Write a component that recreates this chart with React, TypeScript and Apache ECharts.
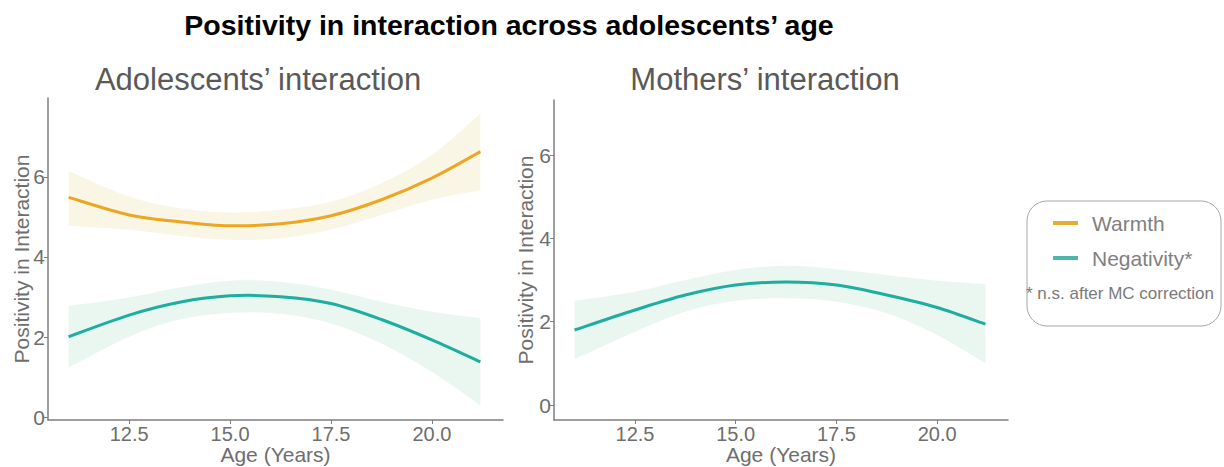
import React, { useEffect, useRef } from "react";
import * as echarts from "echarts";

const ages = [11.0, 12.5, 13.75, 15.0, 16.25, 17.5, 18.75, 20.0, 21.2];

const warmthFit = [5.49, 5.05, 4.88, 4.78, 4.83, 5.03, 5.43, 5.97, 6.63];
const warmthUpper = [6.15, 5.51, 5.22, 5.11, 5.18, 5.38, 5.84, 6.55, 7.58];
const warmthLower = [4.78, 4.68, 4.53, 4.43, 4.47, 4.68, 5.05, 5.43, 5.66];

const negAdolFit = [2.01, 2.55, 2.87, 3.03, 3.01, 2.84, 2.44, 1.93, 1.38];
const negAdolUpper = [2.78, 2.99, 3.24, 3.41, 3.38, 3.18, 2.88, 2.63, 2.47];
const negAdolLower = [1.24, 2.01, 2.44, 2.61, 2.58, 2.34, 1.84, 1.13, 0.3];

const negMomFit = [1.8, 2.28, 2.64, 2.88, 2.95, 2.88, 2.64, 2.34, 1.94];
const negMomUpper = [2.5, 2.72, 3.0, 3.24, 3.34, 3.26, 3.12, 2.98, 2.9];
const negMomLower = [1.1, 1.76, 2.24, 2.5, 2.56, 2.48, 2.2, 1.68, 1.0];

const xTicks = [12.5, 15.0, 17.5, 20.0];
const yTicks = [0, 2, 4, 6];

const chartTitle = "Positivity in interaction across adolescents’ age";
const panelTitles = ["Adolescents’ interaction", "Mothers’ interaction"];
const legendItems = ["Warmth", "Negativity*"];
const legendNote = "* n.s. after MC correction";

const FONT = "'Liberation Sans', Arial, sans-serif";
const WARM = "#EDA621";
const WARM_BAND = "#FAF6E5";
const TEAL = "#1DAE9F";
const TEAL_BAND = "#EAF6F0";
const AXIS = "#7f7f7f";
const LABEL = "#6e6e6e";

// Catmull-Rom spline through pixel points, as cubic Bezier segments
function splineSegs(p: number[][]): string {
  let d = "";
  for (let i = 0; i < p.length - 1; i++) {
    const p0 = p[i - 1] || p[i];
    const p1 = p[i];
    const p2 = p[i + 1];
    const p3 = p[i + 2] || p[i + 1];
    const c1x = p1[0] + (p2[0] - p0[0]) / 6;
    const c1y = p1[1] + (p2[1] - p0[1]) / 6;
    const c2x = p2[0] - (p3[0] - p1[0]) / 6;
    const c2y = p2[1] - (p3[1] - p1[1]) / 6;
    d += ` C ${c1x.toFixed(2)} ${c1y.toFixed(2)} ${c2x.toFixed(2)} ${c2y.toFixed(2)} ${p2[0].toFixed(2)} ${p2[1].toFixed(2)}`;
  }
  return d;
}

function band(name: string, idx: number, up: number[], lo: number[], color: string) {
  return {
    type: "custom",
    name,
    xAxisIndex: idx,
    yAxisIndex: idx,
    silent: true,
    z: 1,
    data: [[ages[0], lo[0]]],
    renderItem: (_params: any, api: any) => {
      const upPx = ages.map((x, i) => api.coord([x, up[i]]));
      const loPx = ages.map((x, i) => api.coord([x, lo[i]])).reverse();
      let d = `M ${upPx[0][0]} ${upPx[0][1]}` + splineSegs(upPx);
      d += ` L ${loPx[0][0]} ${loPx[0][1]}` + splineSegs(loPx) + " Z";
      return {
        type: "path",
        shape: { pathData: d },
        style: { fill: color, stroke: null },
      };
    },
  };
}

function fit(name: string, idx: number, ys: number[], color: string) {
  return {
    type: "custom",
    name,
    xAxisIndex: idx,
    yAxisIndex: idx,
    silent: true,
    z: 3,
    data: [[ages[0], ys[0]]],
    renderItem: (_params: any, api: any) => {
      const p = ages.map((x, i) => api.coord([x, ys[i]]));
      const d = `M ${p[0][0]} ${p[0][1]}` + splineSegs(p);
      return {
        type: "path",
        shape: { pathData: d },
        style: { fill: null, stroke: color, lineWidth: 3, lineCap: "butt", lineJoin: "round" },
      };
    },
  };
}

function xAxis(idx: number) {
  return {
    type: "value",
    gridIndex: idx,
    min: 10.49,
    max: 21.76,
    splitLine: { show: false },
    axisLine: { show: true, onZero: false, lineStyle: { color: AXIS, width: 1.5 } },
    axisTick: { show: true, length: 4, customValues: xTicks, lineStyle: { color: AXIS } },
    axisLabel: {
      customValues: xTicks,
      formatter: (v: number) => v.toFixed(1),
      fontSize: 20,
      color: LABEL,
      margin: 4,
      fontFamily: FONT,
    },
    name: "Age (Years)",
    nameLocation: "middle",
    nameGap: 24,
    nameMoveOverlap: false,
    nameTextStyle: { fontSize: 21, color: LABEL, fontFamily: FONT },
  };
}

function yAxis(idx: number, min: number, max: number, gap: number) {
  return {
    type: "value",
    gridIndex: idx,
    min,
    max,
    splitLine: { show: false },
    axisLine: { show: true, onZero: false, lineStyle: { color: AXIS, width: 1.5 } },
    axisTick: { show: true, length: 4, customValues: yTicks, lineStyle: { color: AXIS } },
    axisLabel: {
      customValues: yTicks,
      fontSize: 21,
      color: LABEL,
      margin: 3,
      fontFamily: FONT,
    },
    name: "Positivity in Interaction",
    nameLocation: "middle",
    nameGap: gap,
    nameMoveOverlap: false,
    nameTextStyle: { fontSize: 21, color: LABEL, fontFamily: FONT },
  };
}

function textEl(text: string, x: number, y: number, font: string, fill: string, align: string) {
  return {
    type: "text",
    x,
    y,
    style: { text, fill, font, align, verticalAlign: "middle" },
  };
}

export default function App() {
  const ref = useRef<HTMLDivElement>(null);
  useEffect(() => {
    if (!ref.current) return;
    const chart = echarts.init(ref.current, undefined, { renderer: "svg" });
    chart.setOption({
      animation: false,
      backgroundColor: "#ffffff",
      grid: [
        { left: 48, top: 98, width: 455, height: 322, outerBoundsMode: "none", containLabel: false },
        { left: 554, top: 100, width: 454, height: 320, outerBoundsMode: "none", containLabel: false },
      ],
      xAxis: [xAxis(0), xAxis(1)],
      yAxis: [yAxis(0, -0.07, 7.97, 16), yAxis(1, -0.36, 7.32, 18)],
      series: [
        band("Warmth CI", 0, warmthUpper, warmthLower, WARM_BAND),
        band("Negativity CI (adolescents)", 0, negAdolUpper, negAdolLower, TEAL_BAND),
        band("Negativity CI (mothers)", 1, negMomUpper, negMomLower, TEAL_BAND),
        fit("Warmth (adolescents)", 0, warmthFit, WARM),
        fit("Negativity (adolescents)", 0, negAdolFit, TEAL),
        fit("Negativity (mothers)", 1, negMomFit, TEAL),
      ],
      graphic: [
        textEl(chartTitle, 509, 25, `bold 28.5px ${FONT}`, "#000000", "center"),
        textEl(panelTitles[0], 258, 79, `31px ${FONT}`, "#595959", "center"),
        textEl(panelTitles[1], 765, 79, `31px ${FONT}`, "#595959", "center"),
        {
          type: "rect",
          shape: { x: 1027, y: 201, width: 194, height: 125, r: 20 },
          style: { fill: "#ffffff", stroke: "#a6a6a6", lineWidth: 1 },
        },
        {
          type: "line",
          shape: { x1: 1053, y1: 223, x2: 1078, y2: 223 },
          style: { stroke: "#E2AE3A", lineWidth: 4 },
        },
        {
          type: "line",
          shape: { x1: 1053, y1: 258, x2: 1078, y2: 258 },
          style: { stroke: "#4DB6AA", lineWidth: 4 },
        },
        textEl(legendItems[0], 1092, 223, `21px ${FONT}`, "#808080", "left"),
        textEl(legendItems[1], 1092, 258, `21px ${FONT}`, "#808080", "left"),
        textEl(legendNote, 1120, 293, `17px ${FONT}`, "#7a7a7a", "center"),
      ],
    });
    return () => chart.dispose();
  }, []);
  return (
    <div
      ref={ref}
      style={{ position: "fixed", left: 0, top: 0, width: 1224, height: 467, background: "#fff" }}
    />
  );
}
